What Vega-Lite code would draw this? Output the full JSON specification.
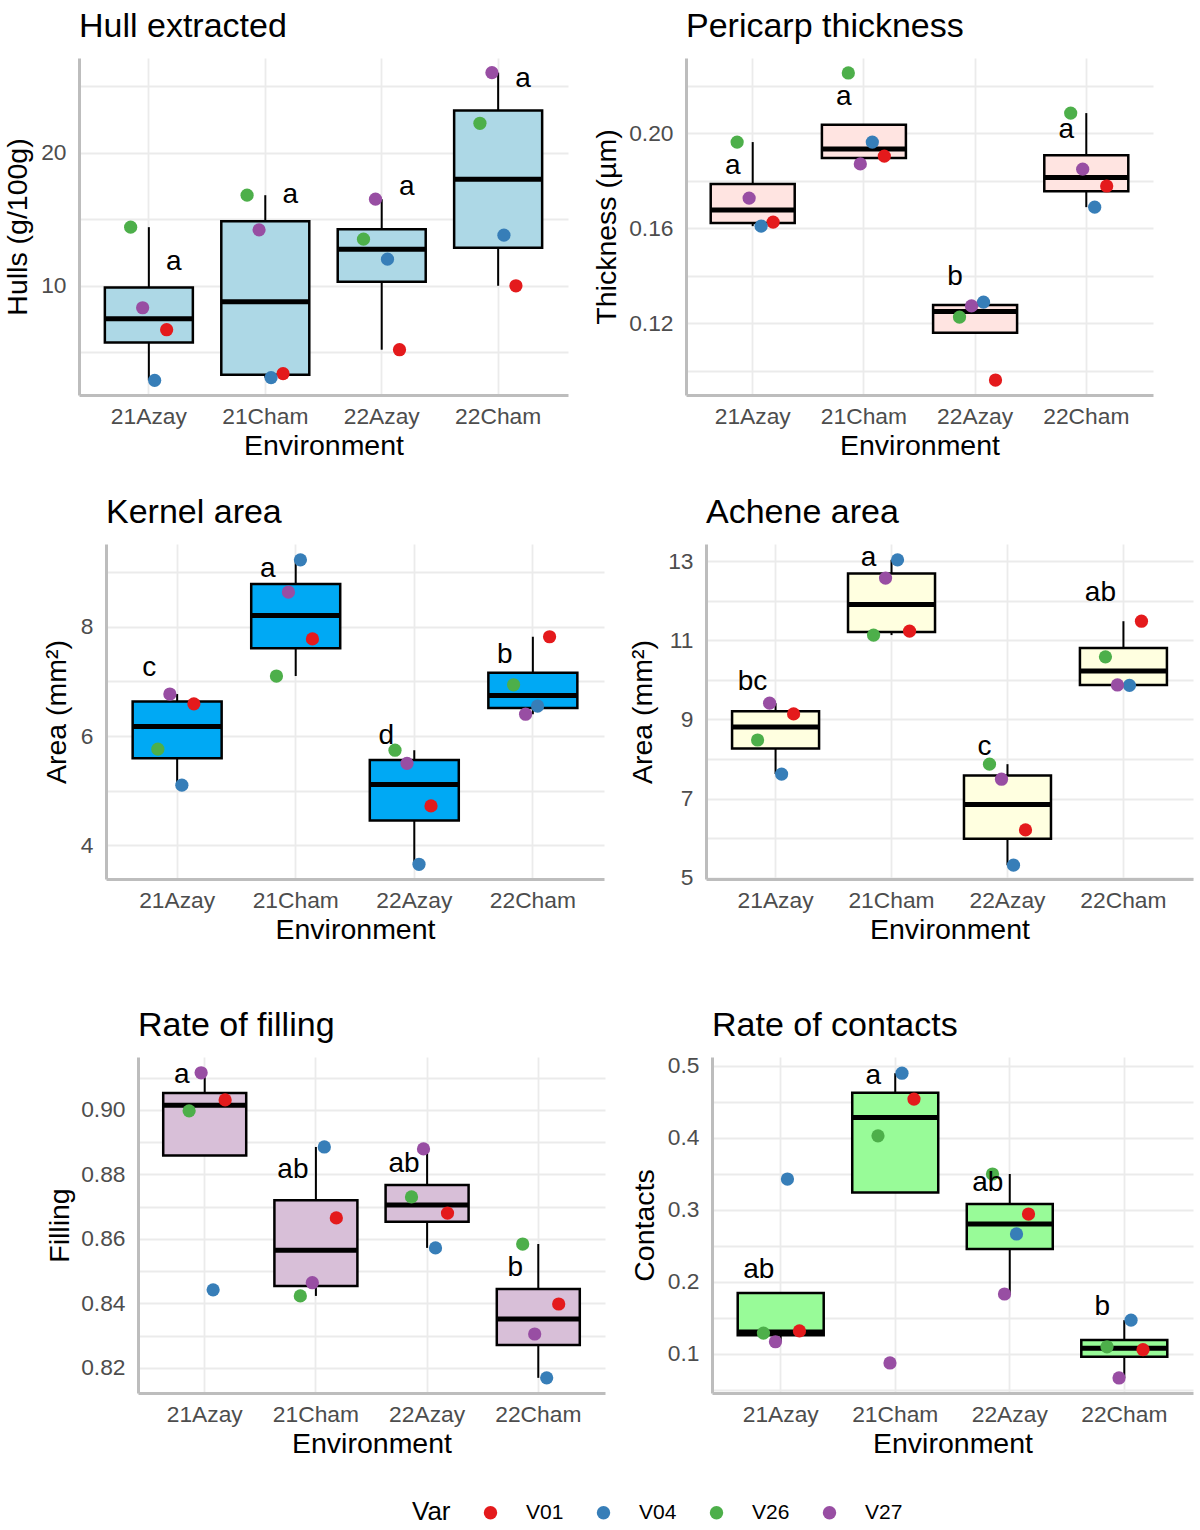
{
  "$schema": "https://vega.github.io/schema/vega-lite/v6.json",
  "padding": {"left": 0, "top": 10, "right": 5, "bottom": 5},
  "background": "white",
  "config": {
    "font": "Liberation Sans",
    "view": {"stroke": null},
    "axis": {
      "labelFont": "Liberation Sans",
      "titleFont": "Liberation Sans",
      "labelFontSize": 22.8,
      "labelColor": "#4D4D4D",
      "titleFontSize": 28.5,
      "titleFontWeight": "normal",
      "titleColor": "#000000",
      "ticks": false,
      "tickSize": 0,
      "domainColor": "#BDBDBD",
      "domainWidth": 3,
      "gridColor": "#EBEBEB",
      "gridWidth": 1.8
    },
    "axisY": {"labelPadding": 13},
    "title": {
      "font": "Liberation Sans",
      "fontSize": 34,
      "fontWeight": "normal",
      "color": "#000000",
      "anchor": "start",
      "frame": "group",
      "offset": 14,
      "baseline": "alphabetic"
    }
  },
  "datasets": {
    "pts": [
      {"trait": "Hull", "env": "21Azay", "var": "V01", "value": 6.7},
      {"trait": "Hull", "env": "21Azay", "var": "V04", "value": 2.9},
      {"trait": "Hull", "env": "21Azay", "var": "V26", "value": 14.4},
      {"trait": "Hull", "env": "21Azay", "var": "V27", "value": 8.35},
      {"trait": "Hull", "env": "21Cham", "var": "V01", "value": 3.4},
      {"trait": "Hull", "env": "21Cham", "var": "V04", "value": 3.1},
      {"trait": "Hull", "env": "21Cham", "var": "V26", "value": 16.8},
      {"trait": "Hull", "env": "21Cham", "var": "V27", "value": 14.2},
      {"trait": "Hull", "env": "22Azay", "var": "V01", "value": 5.2},
      {"trait": "Hull", "env": "22Azay", "var": "V04", "value": 12.0},
      {"trait": "Hull", "env": "22Azay", "var": "V26", "value": 13.5},
      {"trait": "Hull", "env": "22Azay", "var": "V27", "value": 16.5},
      {"trait": "Hull", "env": "22Cham", "var": "V01", "value": 10.0},
      {"trait": "Hull", "env": "22Cham", "var": "V04", "value": 13.8},
      {"trait": "Hull", "env": "22Cham", "var": "V26", "value": 22.2},
      {"trait": "Hull", "env": "22Cham", "var": "V27", "value": 26.0},

      {"trait": "Pericarp", "env": "21Azay", "var": "V01", "value": 0.1625},
      {"trait": "Pericarp", "env": "21Azay", "var": "V04", "value": 0.1608},
      {"trait": "Pericarp", "env": "21Azay", "var": "V26", "value": 0.1962},
      {"trait": "Pericarp", "env": "21Azay", "var": "V27", "value": 0.1726},
      {"trait": "Pericarp", "env": "21Cham", "var": "V01", "value": 0.1903},
      {"trait": "Pericarp", "env": "21Cham", "var": "V04", "value": 0.1962},
      {"trait": "Pericarp", "env": "21Cham", "var": "V26", "value": 0.2253},
      {"trait": "Pericarp", "env": "21Cham", "var": "V27", "value": 0.187},
      {"trait": "Pericarp", "env": "22Azay", "var": "V01", "value": 0.096},
      {"trait": "Pericarp", "env": "22Azay", "var": "V04", "value": 0.1288},
      {"trait": "Pericarp", "env": "22Azay", "var": "V26", "value": 0.1225},
      {"trait": "Pericarp", "env": "22Azay", "var": "V27", "value": 0.1272},
      {"trait": "Pericarp", "env": "22Cham", "var": "V01", "value": 0.1777},
      {"trait": "Pericarp", "env": "22Cham", "var": "V04", "value": 0.1688},
      {"trait": "Pericarp", "env": "22Cham", "var": "V26", "value": 0.2084},
      {"trait": "Pericarp", "env": "22Cham", "var": "V27", "value": 0.1848},

      {"trait": "Kernel", "env": "21Azay", "var": "V01", "value": 6.59},
      {"trait": "Kernel", "env": "21Azay", "var": "V04", "value": 5.10},
      {"trait": "Kernel", "env": "21Azay", "var": "V26", "value": 5.76},
      {"trait": "Kernel", "env": "21Azay", "var": "V27", "value": 6.77},
      {"trait": "Kernel", "env": "21Cham", "var": "V01", "value": 7.78},
      {"trait": "Kernel", "env": "21Cham", "var": "V04", "value": 9.23},
      {"trait": "Kernel", "env": "21Cham", "var": "V26", "value": 7.10},
      {"trait": "Kernel", "env": "21Cham", "var": "V27", "value": 8.64},
      {"trait": "Kernel", "env": "22Azay", "var": "V01", "value": 4.72},
      {"trait": "Kernel", "env": "22Azay", "var": "V04", "value": 3.65},
      {"trait": "Kernel", "env": "22Azay", "var": "V26", "value": 5.74},
      {"trait": "Kernel", "env": "22Azay", "var": "V27", "value": 5.50},
      {"trait": "Kernel", "env": "22Cham", "var": "V01", "value": 7.82},
      {"trait": "Kernel", "env": "22Cham", "var": "V04", "value": 6.55},
      {"trait": "Kernel", "env": "22Cham", "var": "V26", "value": 6.94},
      {"trait": "Kernel", "env": "22Cham", "var": "V27", "value": 6.40},

      {"trait": "Achene", "env": "21Azay", "var": "V01", "value": 9.14},
      {"trait": "Achene", "env": "21Azay", "var": "V04", "value": 7.62},
      {"trait": "Achene", "env": "21Azay", "var": "V26", "value": 8.48},
      {"trait": "Achene", "env": "21Azay", "var": "V27", "value": 9.41},
      {"trait": "Achene", "env": "21Cham", "var": "V01", "value": 11.23},
      {"trait": "Achene", "env": "21Cham", "var": "V04", "value": 13.03},
      {"trait": "Achene", "env": "21Cham", "var": "V26", "value": 11.13},
      {"trait": "Achene", "env": "21Cham", "var": "V27", "value": 12.57},
      {"trait": "Achene", "env": "22Azay", "var": "V01", "value": 6.21},
      {"trait": "Achene", "env": "22Azay", "var": "V04", "value": 5.32},
      {"trait": "Achene", "env": "22Azay", "var": "V26", "value": 7.87},
      {"trait": "Achene", "env": "22Azay", "var": "V27", "value": 7.49},
      {"trait": "Achene", "env": "22Cham", "var": "V01", "value": 11.48},
      {"trait": "Achene", "env": "22Cham", "var": "V04", "value": 9.86},
      {"trait": "Achene", "env": "22Cham", "var": "V26", "value": 10.58},
      {"trait": "Achene", "env": "22Cham", "var": "V27", "value": 9.87},

      {"trait": "Filling", "env": "21Azay", "var": "V01", "value": 0.9031},
      {"trait": "Filling", "env": "21Azay", "var": "V04", "value": 0.8442},
      {"trait": "Filling", "env": "21Azay", "var": "V26", "value": 0.8997},
      {"trait": "Filling", "env": "21Azay", "var": "V27", "value": 0.9115},
      {"trait": "Filling", "env": "21Cham", "var": "V01", "value": 0.8665},
      {"trait": "Filling", "env": "21Cham", "var": "V04", "value": 0.8885},
      {"trait": "Filling", "env": "21Cham", "var": "V26", "value": 0.8423},
      {"trait": "Filling", "env": "21Cham", "var": "V27", "value": 0.8464},
      {"trait": "Filling", "env": "22Azay", "var": "V01", "value": 0.868},
      {"trait": "Filling", "env": "22Azay", "var": "V04", "value": 0.8572},
      {"trait": "Filling", "env": "22Azay", "var": "V26", "value": 0.873},
      {"trait": "Filling", "env": "22Azay", "var": "V27", "value": 0.8879},
      {"trait": "Filling", "env": "22Cham", "var": "V01", "value": 0.8398},
      {"trait": "Filling", "env": "22Cham", "var": "V04", "value": 0.8169},
      {"trait": "Filling", "env": "22Cham", "var": "V26", "value": 0.8584},
      {"trait": "Filling", "env": "22Cham", "var": "V27", "value": 0.8305},

      {"trait": "Contacts", "env": "21Azay", "var": "V01", "value": 0.132},
      {"trait": "Contacts", "env": "21Azay", "var": "V04", "value": 0.343},
      {"trait": "Contacts", "env": "21Azay", "var": "V26", "value": 0.129},
      {"trait": "Contacts", "env": "21Azay", "var": "V27", "value": 0.117},
      {"trait": "Contacts", "env": "21Cham", "var": "V01", "value": 0.454},
      {"trait": "Contacts", "env": "21Cham", "var": "V04", "value": 0.490},
      {"trait": "Contacts", "env": "21Cham", "var": "V26", "value": 0.403},
      {"trait": "Contacts", "env": "21Cham", "var": "V27", "value": 0.0875},
      {"trait": "Contacts", "env": "22Azay", "var": "V01", "value": 0.2944},
      {"trait": "Contacts", "env": "22Azay", "var": "V04", "value": 0.2667},
      {"trait": "Contacts", "env": "22Azay", "var": "V26", "value": 0.35},
      {"trait": "Contacts", "env": "22Azay", "var": "V27", "value": 0.1833},
      {"trait": "Contacts", "env": "22Cham", "var": "V01", "value": 0.106},
      {"trait": "Contacts", "env": "22Cham", "var": "V04", "value": 0.147},
      {"trait": "Contacts", "env": "22Cham", "var": "V26", "value": 0.110},
      {"trait": "Contacts", "env": "22Cham", "var": "V27", "value": 0.0667}
    ],
    "letters": [
      {"trait": "Hull", "env": "21Azay", "letter": "a", "value": 11.8},
      {"trait": "Hull", "env": "21Cham", "letter": "a", "value": 16.8},
      {"trait": "Hull", "env": "22Azay", "letter": "a", "value": 17.4},
      {"trait": "Hull", "env": "22Cham", "letter": "a", "value": 25.5},
      {"trait": "Pericarp", "env": "21Azay", "letter": "a", "value": 0.186},
      {"trait": "Pericarp", "env": "21Cham", "letter": "a", "value": 0.2152},
      {"trait": "Pericarp", "env": "22Azay", "letter": "b", "value": 0.1394},
      {"trait": "Pericarp", "env": "22Cham", "letter": "a", "value": 0.2013},
      {"trait": "Kernel", "env": "21Azay", "letter": "c", "value": 7.25},
      {"trait": "Kernel", "env": "21Cham", "letter": "a", "value": 9.06},
      {"trait": "Kernel", "env": "22Azay", "letter": "d", "value": 6.0},
      {"trait": "Kernel", "env": "22Cham", "letter": "b", "value": 7.49},
      {"trait": "Achene", "env": "21Azay", "letter": "bc", "value": 9.94},
      {"trait": "Achene", "env": "21Cham", "letter": "a", "value": 13.07},
      {"trait": "Achene", "env": "22Azay", "letter": "c", "value": 8.30},
      {"trait": "Achene", "env": "22Cham", "letter": "ab", "value": 12.19},
      {"trait": "Filling", "env": "21Azay", "letter": "a", "value": 0.9109},
      {"trait": "Filling", "env": "21Cham", "letter": "ab", "value": 0.8814},
      {"trait": "Filling", "env": "22Azay", "letter": "ab", "value": 0.8833},
      {"trait": "Filling", "env": "22Cham", "letter": "b", "value": 0.851},
      {"trait": "Contacts", "env": "21Azay", "letter": "ab", "value": 0.2167},
      {"trait": "Contacts", "env": "21Cham", "letter": "a", "value": 0.486},
      {"trait": "Contacts", "env": "22Azay", "letter": "ab", "value": 0.3375},
      {"trait": "Contacts", "env": "22Cham", "letter": "b", "value": 0.165}
    ]
  },
  "spacing": 63,
  "vconcat": [
    {
      "spacing": 35,
      "vconcat": [
        {
          "spacing": 0,
          "hconcat": [
            {"width": 2, "height": 1, "data": {"values": []}, "mark": {"type": "point", "opacity": 0}, "encoding": {}},
            {
              "width": 489, "height": 337,
              "title": {"text": "Hull extracted"},
              "encoding": {
                "x": {"field": "env", "type": "nominal", "scale": {"paddingInner": 0, "paddingOuter": 0.1},
                      "axis": {"title": "Environment", "grid": true, "bandPosition": 0.5, "labelAngle": 0, "labelPadding": 10, "titlePadding": 4}},
                "y": {"field": "value", "type": "quantitative",
                      "scale": {"domain": [1.8, 27.1], "nice": false, "zero": false},
                      "axis": {"title": "Hulls (g/100g)", "values": [5, 10, 15, 20, 25],
                               "labelExpr": "datum.value % 10 === 0 ? datum.label : ''",
                               "titleX": -47, "minExtent": 77}}
              },
              "layer": [
                {
                  "data": {"name": "pts"},
                  "transform": [{"filter": "datum.trait === 'Hull'"}],
                  "mark": {"type": "boxplot", "extent": 1.5, "outliers": false, "size": 88,
                           "box": {"color": "#ADD8E6", "stroke": "#000000", "strokeWidth": 2.5, "opacity": 1},
                           "median": {"color": "#000000", "thickness": 5, "opacity": 1},
                           "rule": {"color": "#000000", "strokeWidth": 2, "opacity": 1}}
                },
                {
                  "data": {"name": "pts"},
                  "transform": [{"filter": "datum.trait === 'Hull'"}],
                  "mark": {"type": "circle", "size": 175, "opacity": 1},
                  "encoding": {
                    "xOffset": {"field": "var", "type": "nominal", "scale": {"domain": ["V26", "V27", "V04", "V01"], "range": [34, 82]}},
                    "color": {"field": "var", "type": "nominal", "title": "Var",
                              "scale": {"domain": ["V01", "V04", "V26", "V27"], "range": ["#E41A1C", "#377EB8", "#4DAF4A", "#984EA3"]},
                              "legend": {"orient": "none", "legendX": 412, "legendY": 1444, "direction": "horizontal", "titleOrient": "left",
                                         "titleFontSize": 26, "titleFontWeight": "normal", "titleColor": "#000000", "titlePadding": 29,
                                         "labelFontSize": 21, "labelColor": "#000000", "labelOffset": 25, "columnPadding": 29,
                                         "symbolSize": 180, "symbolStrokeWidth": 0, "symbolOpacity": 1}}
                  }
                },
                {
                  "data": {"name": "letters"},
                  "transform": [{"filter": "datum.trait === 'Hull'"}],
                  "mark": {"type": "text", "fontSize": 28, "baseline": "middle", "dx": 25, "color": "#000000"},
                  "encoding": {"text": {"field": "letter"}}
                }
              ]
            },
            {
              "width": 467, "height": 337,
              "title": {"text": "Pericarp thickness"},
              "encoding": {
                "x": {"field": "env", "type": "nominal", "scale": {"paddingInner": 0, "paddingOuter": 0.1},
                      "axis": {"title": "Environment", "grid": true, "bandPosition": 0.5, "labelAngle": 0, "labelPadding": 10, "titlePadding": 4}},
                "y": {"field": "value", "type": "quantitative",
                      "scale": {"domain": [0.0897, 0.2316], "nice": false, "zero": false},
                      "axis": {"title": "Thickness (µm)", "values": [0.10, 0.12, 0.14, 0.16, 0.18, 0.20, 0.22],
                               "labelExpr": "round(datum.value * 100) % 4 === 0 ? format(datum.value, '.2f') : ''",
                               "titleX": -65, "minExtent": 118}}
              },
              "layer": [
                {
                  "data": {"name": "pts"},
                  "transform": [{"filter": "datum.trait === 'Pericarp'"}],
                  "mark": {"type": "boxplot", "extent": 1.5, "outliers": false, "size": 84,
                           "box": {"color": "#FFE4E1", "stroke": "#000000", "strokeWidth": 2.5, "opacity": 1},
                           "median": {"color": "#000000", "thickness": 5, "opacity": 1},
                           "rule": {"color": "#000000", "strokeWidth": 2, "opacity": 1}}
                },
                {
                  "data": {"name": "pts"},
                  "transform": [{"filter": "datum.trait === 'Pericarp'"}],
                  "mark": {"type": "circle", "size": 175, "opacity": 1},
                  "encoding": {
                    "xOffset": {"field": "var", "type": "nominal", "scale": {"domain": ["V27", "V26", "V04", "V01"], "range": [31.6, 79.6]}},
                    "color": {"field": "var", "type": "nominal", "title": "Var",
                              "scale": {"domain": ["V01", "V04", "V26", "V27"], "range": ["#E41A1C", "#377EB8", "#4DAF4A", "#984EA3"]},
                              "legend": {"orient": "none", "legendX": 412, "legendY": 1444, "direction": "horizontal", "titleOrient": "left",
                                         "titleFontSize": 26, "titleFontWeight": "normal", "titleColor": "#000000", "titlePadding": 29,
                                         "labelFontSize": 21, "labelColor": "#000000", "labelOffset": 25, "columnPadding": 29,
                                         "symbolSize": 180, "symbolStrokeWidth": 0, "symbolOpacity": 1}}
                  }
                },
                {
                  "data": {"name": "letters"},
                  "transform": [{"filter": "datum.trait === 'Pericarp'"}],
                  "mark": {"type": "text", "fontSize": 28, "baseline": "middle", "dx": -20, "color": "#000000"},
                  "encoding": {"text": {"field": "letter"}}
                }
              ]
            }
          ]
        },
        {
          "spacing": 0,
          "hconcat": [
            {"width": 30, "height": 1, "data": {"values": []}, "mark": {"type": "point", "opacity": 0}, "encoding": {}},
            {
              "width": 498, "height": 335,
              "title": {"text": "Kernel area"},
              "encoding": {
                "x": {"field": "env", "type": "nominal", "scale": {"paddingInner": 0, "paddingOuter": 0.1},
                      "axis": {"title": "Environment", "grid": true, "bandPosition": 0.5, "labelAngle": 0, "labelPadding": 10, "titlePadding": 4}},
                "y": {"field": "value", "type": "quantitative",
                      "scale": {"domain": [3.38, 9.52], "nice": false, "zero": false},
                      "axis": {"title": "Area (mm²)", "values": [4, 5, 6, 7, 8, 9],
                               "labelExpr": "datum.value % 2 === 0 ? datum.label : ''",
                               "titleX": -35, "minExtent": 76}}
              },
              "layer": [
                {
                  "data": {"name": "pts"},
                  "transform": [{"filter": "datum.trait === 'Kernel'"}],
                  "mark": {"type": "boxplot", "extent": 1.5, "outliers": false, "size": 89,
                           "box": {"color": "#00A9F4", "stroke": "#000000", "strokeWidth": 2.5, "opacity": 1},
                           "median": {"color": "#000000", "thickness": 5, "opacity": 1},
                           "rule": {"color": "#000000", "strokeWidth": 2, "opacity": 1}}
                },
                {
                  "data": {"name": "pts"},
                  "transform": [{"filter": "datum.trait === 'Kernel'"}],
                  "mark": {"type": "circle", "size": 175, "opacity": 1},
                  "encoding": {
                    "xOffset": {"field": "var", "type": "nominal", "scale": {"domain": ["V27", "V26", "V04", "V01"], "range": [35.3, 83.3]}},
                    "color": {"field": "var", "type": "nominal", "title": "Var",
                              "scale": {"domain": ["V01", "V04", "V26", "V27"], "range": ["#E41A1C", "#377EB8", "#4DAF4A", "#984EA3"]},
                              "legend": {"orient": "none", "legendX": 412, "legendY": 1444, "direction": "horizontal", "titleOrient": "left",
                                         "titleFontSize": 26, "titleFontWeight": "normal", "titleColor": "#000000", "titlePadding": 29,
                                         "labelFontSize": 21, "labelColor": "#000000", "labelOffset": 25, "columnPadding": 29,
                                         "symbolSize": 180, "symbolStrokeWidth": 0, "symbolOpacity": 1}}
                  }
                },
                {
                  "data": {"name": "letters"},
                  "transform": [{"filter": "datum.trait === 'Kernel'"}],
                  "mark": {"type": "text", "fontSize": 28, "baseline": "middle", "dx": -28, "color": "#000000"},
                  "encoding": {"text": {"field": "letter"}}
                }
              ]
            },
            {
              "width": 487, "height": 335,
              "title": {"text": "Achene area"},
              "encoding": {
                "x": {"field": "env", "type": "nominal", "scale": {"paddingInner": 0, "paddingOuter": 0.1},
                      "axis": {"title": "Environment", "grid": true, "bandPosition": 0.5, "labelAngle": 0, "labelPadding": 10, "titlePadding": 4}},
                "y": {"field": "value", "type": "quantitative",
                      "scale": {"domain": [4.97, 13.43], "nice": false, "zero": false},
                      "axis": {"title": "Area (mm²)", "values": [5, 6, 7, 8, 9, 10, 11, 12, 13],
                               "labelExpr": "datum.value % 2 === 1 ? datum.label : ''",
                               "titleX": -49, "minExtent": 102}}
              },
              "layer": [
                {
                  "data": {"name": "pts"},
                  "transform": [{"filter": "datum.trait === 'Achene'"}],
                  "mark": {"type": "boxplot", "extent": 1.5, "outliers": false, "size": 87,
                           "box": {"color": "#FFFFE0", "stroke": "#000000", "strokeWidth": 2.5, "opacity": 1},
                           "median": {"color": "#000000", "thickness": 5, "opacity": 1},
                           "rule": {"color": "#000000", "strokeWidth": 2, "opacity": 1}}
                },
                {
                  "data": {"name": "pts"},
                  "transform": [{"filter": "datum.trait === 'Achene'"}],
                  "mark": {"type": "circle", "size": 175, "opacity": 1},
                  "encoding": {
                    "xOffset": {"field": "var", "type": "nominal", "scale": {"domain": ["V01", "V26", "V27", "V04"], "range": [34, 82]}},
                    "color": {"field": "var", "type": "nominal", "title": "Var",
                              "scale": {"domain": ["V01", "V04", "V26", "V27"], "range": ["#E41A1C", "#377EB8", "#4DAF4A", "#984EA3"]},
                              "legend": {"orient": "none", "legendX": 412, "legendY": 1444, "direction": "horizontal", "titleOrient": "left",
                                         "titleFontSize": 26, "titleFontWeight": "normal", "titleColor": "#000000", "titlePadding": 29,
                                         "labelFontSize": 21, "labelColor": "#000000", "labelOffset": 25, "columnPadding": 29,
                                         "symbolSize": 180, "symbolStrokeWidth": 0, "symbolOpacity": 1}}
                  }
                },
                {
                  "data": {"name": "letters"},
                  "transform": [{"filter": "datum.trait === 'Achene'"}],
                  "mark": {"type": "text", "fontSize": 28, "baseline": "middle", "dx": -23, "color": "#000000"},
                  "encoding": {"text": {"field": "letter"}}
                }
              ]
            }
          ]
        }
      ]
    },
    {
      "spacing": 0,
      "hconcat": [
        {"width": 45, "height": 1, "data": {"values": []}, "mark": {"type": "point", "opacity": 0}, "encoding": {}},
        {
          "width": 467, "height": 336,
          "title": {"text": "Rate of filling"},
          "encoding": {
            "x": {"field": "env", "type": "nominal", "scale": {"paddingInner": 0, "paddingOuter": 0.1},
                  "axis": {"title": "Environment", "grid": true, "bandPosition": 0.5, "labelAngle": 0, "labelPadding": 10, "titlePadding": 4}},
            "y": {"field": "value", "type": "quantitative",
                  "scale": {"domain": [0.8122, 0.9164], "nice": false, "zero": false},
                  "axis": {"title": "Filling", "values": [0.82, 0.83, 0.84, 0.85, 0.86, 0.87, 0.88, 0.89, 0.90, 0.91],
                           "labelExpr": "round(datum.value * 100) % 2 === 0 ? format(datum.value, '.2f') : ''",
                           "titleX": -64, "minExtent": 93}}
          },
          "layer": [
            {
              "data": {"name": "pts"},
              "transform": [{"filter": "datum.trait === 'Filling'"}],
              "mark": {"type": "boxplot", "extent": 1.5, "outliers": false, "size": 83,
                       "box": {"color": "#D8BFD8", "stroke": "#000000", "strokeWidth": 2.5, "opacity": 1},
                       "median": {"color": "#000000", "thickness": 5, "opacity": 1},
                       "rule": {"color": "#000000", "strokeWidth": 2, "opacity": 1}}
            },
            {
              "data": {"name": "pts"},
              "transform": [{"filter": "datum.trait === 'Filling'"}],
              "mark": {"type": "circle", "size": 175, "opacity": 1},
              "encoding": {
                "xOffset": {"field": "var", "type": "nominal", "scale": {"domain": ["V04", "V26", "V27", "V01"], "range": [31.6, 79.6]}},
                "color": {"field": "var", "type": "nominal", "title": "Var",
                          "scale": {"domain": ["V01", "V04", "V26", "V27"], "range": ["#E41A1C", "#377EB8", "#4DAF4A", "#984EA3"]},
                          "legend": {"orient": "none", "legendX": 412, "legendY": 1444, "direction": "horizontal", "titleOrient": "left",
                                     "titleFontSize": 26, "titleFontWeight": "normal", "titleColor": "#000000", "titlePadding": 29,
                                     "labelFontSize": 21, "labelColor": "#000000", "labelOffset": 25, "columnPadding": 29,
                                     "symbolSize": 180, "symbolStrokeWidth": 0, "symbolOpacity": 1}}
              }
            },
            {
              "data": {"name": "letters"},
              "transform": [{"filter": "datum.trait === 'Filling'"}],
              "mark": {"type": "text", "fontSize": 28, "baseline": "middle", "dx": -23, "color": "#000000"},
              "encoding": {"text": {"field": "letter"}}
            }
          ]
        },
        {
          "width": 481, "height": 336,
          "title": {"text": "Rate of contacts", "offset": 12},
          "encoding": {
            "x": {"field": "env", "type": "nominal", "scale": {"paddingInner": 0, "paddingOuter": 0.1},
                  "axis": {"title": "Environment", "grid": true, "bandPosition": 0.5, "labelAngle": 0, "labelPadding": 10, "titlePadding": 4}},
            "y": {"field": "value", "type": "quantitative",
                  "scale": {"domain": [0.0458, 0.5125], "nice": false, "zero": false},
                  "axis": {"title": "Contacts", "values": [0.05, 0.1, 0.15, 0.2, 0.25, 0.3, 0.35, 0.4, 0.45, 0.5],
                           "labelExpr": "round(datum.value * 100) % 10 === 0 ? format(datum.value, '.1f') : ''",
                           "titleX": -53, "minExtent": 107}}
          },
          "layer": [
            {
              "data": {"name": "pts"},
              "transform": [{"filter": "datum.trait === 'Contacts'"}],
              "mark": {"type": "boxplot", "extent": 1.5, "outliers": false, "size": 86,
                       "box": {"color": "#98FB98", "stroke": "#000000", "strokeWidth": 2.5, "opacity": 1},
                       "median": {"color": "#000000", "thickness": 5, "opacity": 1},
                       "rule": {"color": "#000000", "strokeWidth": 2, "opacity": 1}}
            },
            {
              "data": {"name": "pts"},
              "transform": [{"filter": "datum.trait === 'Contacts'"}],
              "mark": {"type": "circle", "size": 175, "opacity": 1},
              "encoding": {
                "xOffset": {"field": "var", "type": "nominal", "scale": {"domain": ["V01", "V27", "V04", "V26"], "range": [33.25, 81.25]}},
                "color": {"field": "var", "type": "nominal", "title": "Var",
                          "scale": {"domain": ["V01", "V04", "V26", "V27"], "range": ["#E41A1C", "#377EB8", "#4DAF4A", "#984EA3"]},
                          "legend": {"orient": "none", "legendX": 412, "legendY": 1444, "direction": "horizontal", "titleOrient": "left",
                                     "titleFontSize": 26, "titleFontWeight": "normal", "titleColor": "#000000", "titlePadding": 29,
                                     "labelFontSize": 21, "labelColor": "#000000", "labelOffset": 25, "columnPadding": 29,
                                     "symbolSize": 180, "symbolStrokeWidth": 0, "symbolOpacity": 1}}
              }
            },
            {
              "data": {"name": "letters"},
              "transform": [{"filter": "datum.trait === 'Contacts'"}],
              "mark": {"type": "text", "fontSize": 28, "baseline": "middle", "dx": -22, "color": "#000000"},
              "encoding": {"text": {"field": "letter"}}
            }
          ]
        }
      ]
    }
  ]
}
